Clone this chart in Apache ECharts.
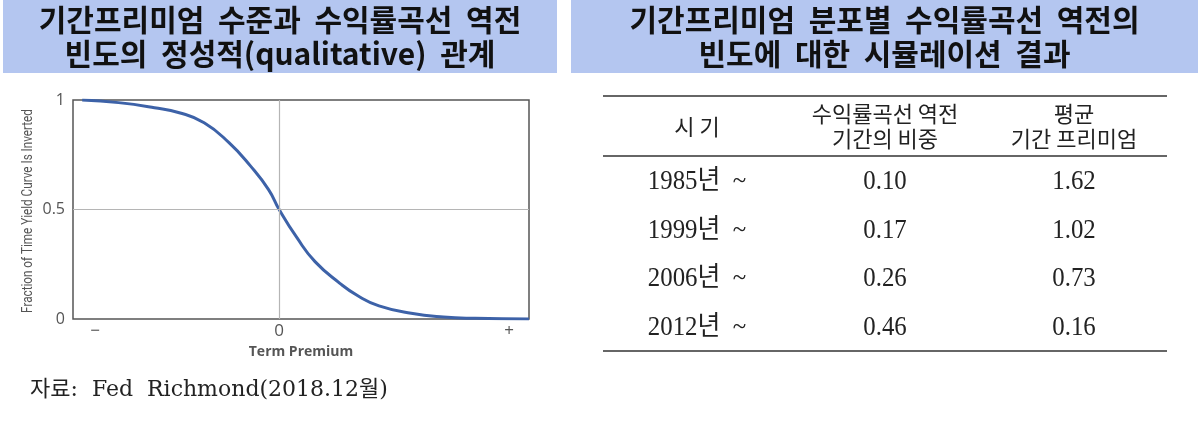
<!DOCTYPE html>
<html>
<head>
<meta charset="utf-8">
<script src="https://cdn.jsdelivr.net/npm/echarts@6/dist/echarts.min.js"></script>
<style>
  html, body { margin: 0; padding: 0; background: #fff; }
  #main { width: 1198px; height: 421px; }
</style>
</head>
<body>
<div id="main"></div>
<script>
// curve (term premium in arbitrary units, 0 = zero premium)
var curveX = [-4.28, -3.49, -2.71, -2.17, -1.63, -1.09, -0.62, -0.23, 0, 0.39, 0.78, 1.32, 1.71, 2.17, 2.87, 3.57, 4.26, 5.43];
var curveY = [1.0, 0.988, 0.965, 0.942, 0.896, 0.805, 0.698, 0.591, 0.5, 0.37, 0.262, 0.163, 0.106, 0.06, 0.026, 0.009, 0.003, 0.0];

var xTickValues = [-4, 0, 5];
var xTickLabels = ['\u2212', '0', '+'];

var leftTitle = ['기간프리미엄 수준과 수익률곡선 역전', '빈도의 정성적(qualitative) 관계'];
var rightTitle = ['기간프리미엄 분포별 수익률곡선 역전의', '빈도에 대한 시뮬레이션 결과'];

// table
var headers = [['시 기'], ['수익률곡선 역전', '기간의 비중'], ['평균', '기간 프리미엄']];
var periods = ['1985년  ~', '1999년  ~', '2006년  ~', '2012년  ~'];
var invertShare = ['0.10', '0.17', '0.26', '0.46'];
var avgPremium = ['1.62', '1.02', '0.73', '0.16'];

var source = '자료:  Fed  Richmond(2018.12월)';
var yName = 'Fraction of Time Yield Curve Is Inverted';

var chart = echarts.init(document.getElementById('main'));

var titleFont = '"Noto Sans CJK KR", sans-serif';
var serifFont = '"Liberation Serif", "Noto Sans CJK KR", serif';
var boxColor = '#b4c6f0';

var graphics = [];

// title boxes, words spaced a little wider like the original slide
function titleBox(x, w, lines) {
  graphics.push({ type: 'rect', shape: { x: x, y: 0, width: w, height: 73 }, style: { fill: boxColor }, silent: true });
  lines.forEach(function (t, i) {
    graphics.push({
      type: 'text', x: x + w / 2, y: 20 + i * 34,
      style: { text: t.split(' ').join('  '), font: 'bold 30px ' + titleFont, fill: '#111', align: 'center', verticalAlign: 'middle' }
    });
  });
}
titleBox(3, 554, leftTitle);
titleBox(571, 627, rightTitle);

// y axis title, condensed
graphics.push({
  type: 'text', x: 28, y: 211, rotation: Math.PI / 2, scaleX: 0.78,
  style: { text: yName, font: '15px Roboto, sans-serif', fill: '#555', align: 'center', verticalAlign: 'middle' }
});

// table
var tL = 603, tR = 1167, tTop = 96, tHead = 156, tBottom = 351;
var colX = [697, 885, 1074];
[tTop, tHead, tBottom].forEach(function (y) {
  graphics.push({ type: 'line', shape: { x1: tL, y1: y, x2: tR, y2: y }, style: { stroke: '#333', lineWidth: 1.3 }, silent: true });
});
headers.forEach(function (h, c) {
  h.forEach(function (t, i) {
    var y = h.length === 1 ? 127 : 114 + i * 25;
    graphics.push({
      type: 'text', x: colX[c], y: y,
      style: { text: t, font: '22px ' + titleFont, fill: '#222', align: 'center', verticalAlign: 'middle' }
    });
  });
});
var rowY0 = 182, rowH = 48.5;
[periods, invertShare, avgPremium].forEach(function (col, c) {
  col.forEach(function (t, r) {
    graphics.push({
      type: 'text', x: colX[c], y: rowY0 + r * rowH, scaleX: 0.92,
      style: { text: t, font: '27px ' + serifFont, fill: '#222', align: 'center', verticalAlign: 'middle' }
    });
  });
});

// source note
graphics.push({
  type: 'text', x: 30, y: 390,
  style: { text: source, font: '22px "DejaVu Serif", "Noto Sans CJK KR", serif', fill: '#222', align: 'left', verticalAlign: 'middle' }
});

var option = {
  animation: false,
  grid: { left: 73, top: 100, width: 456, height: 219, show: true, borderColor: '#555', borderWidth: 1.5, backgroundColor: '#fff' },
  xAxis: {
    type: 'value', min: -4.48, max: 5.43,
    name: 'Term Premium', nameLocation: 'middle', nameGap: 24,
    nameTextStyle: { fontFamily: '"Open Sans", sans-serif', fontWeight: 'bold', fontSize: 14, color: '#555' },
    axisLine: { show: false }, axisTick: { show: false }, splitLine: { show: false },
    axisLabel: {
      customValues: xTickValues, margin: 4,
      fontFamily: '"Open Sans", sans-serif', fontSize: 17, color: '#555',
      formatter: function (v) { return xTickLabels[xTickValues.indexOf(v)]; }
    }
  },
  yAxis: {
    type: 'value', min: 0, max: 1, interval: 0.5,
    axisLine: { show: false }, axisTick: { show: false }, splitLine: { show: false },
    axisLabel: { margin: 8, fontFamily: '"Open Sans", sans-serif', fontSize: 16, color: '#555' }
  },
  series: [
    {
      type: 'line', data: [], silent: true, z: 1,
      markLine: {
        silent: true, symbol: 'none', label: { show: false },
        lineStyle: { color: '#b5b5b5', type: 'solid', width: 1.2 },
        data: [{ xAxis: 0 }, { yAxis: 0.5 }]
      }
    },
    {
      type: 'line', smooth: true, showSymbol: false, z: 3,
      lineStyle: { color: '#3d62a8', width: 3 },
      data: curveX.map(function (x, i) { return [x, curveY[i]]; })
    }
  ],
  graphic: graphics
};

chart.setOption(option);
</script>
</body>
</html>
